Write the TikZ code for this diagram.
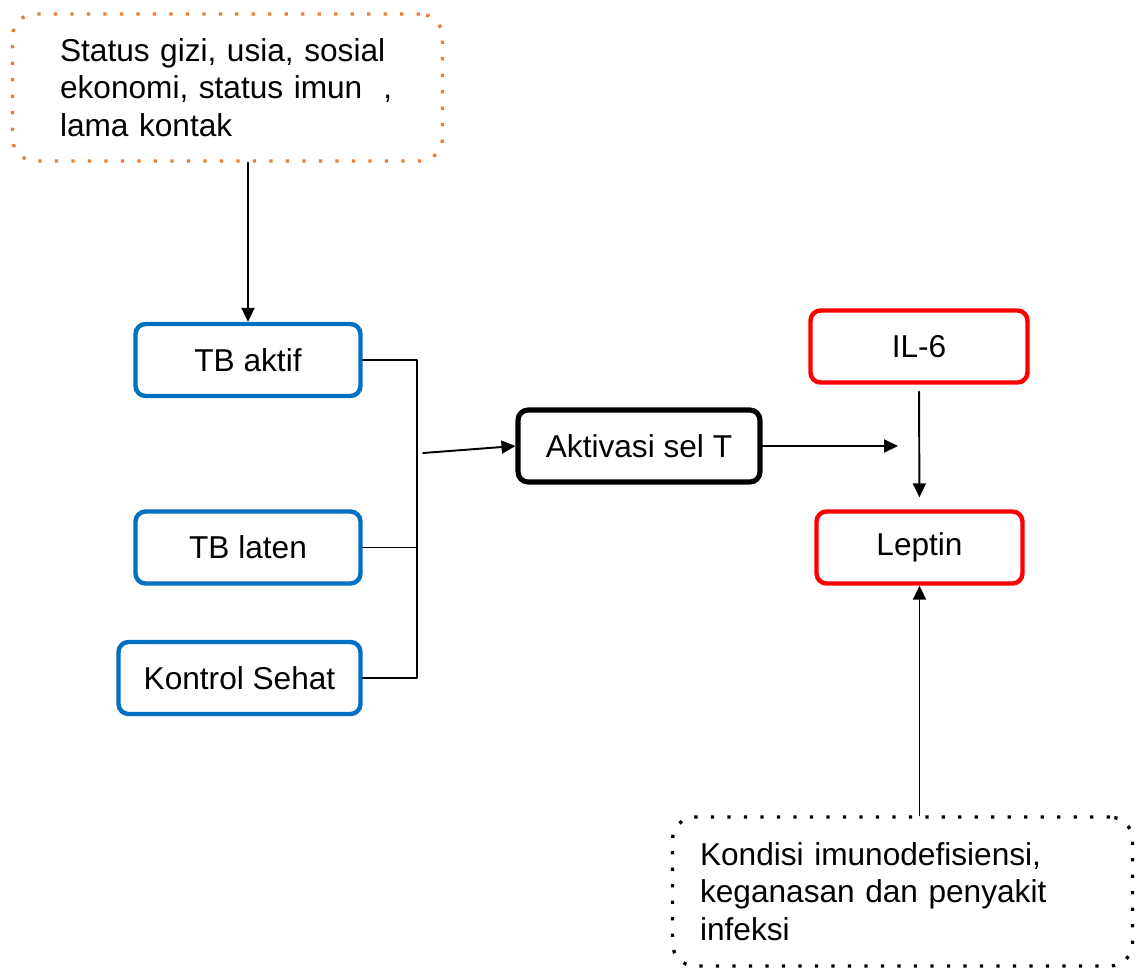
\documentclass[tikz,border=0pt]{standalone}
\usepackage{fontspec}
\setmainfont{Liberation Sans}
\usetikzlibrary{arrows.meta}
\definecolor{boxblue}{HTML}{0070C0}
\definecolor{boxred}{HTML}{FF0000}
\definecolor{boxorange}{HTML}{ED7D31}
\begin{document}
\begin{tikzpicture}[x=0.02cm, y=-0.02cm, line cap=round, line join=round,
		>={Triangle[length=0.28cm,width=0.26cm]},
		every node/.style={font=\fontsize{18}{21.5}\selectfont, inner sep=0pt},
		group/.style={draw=boxblue, line width=2.5pt, rounded corners=0.2cm, minimum height=1.44cm},
		marker/.style={draw=boxred, line width=2.5pt, rounded corners=0.2cm, minimum height=1.44cm},
		process/.style={draw=black, line width=2.9pt, rounded corners=0.2cm, minimum height=1.44cm, minimum width=4.84cm},
		factor/.style={line width=1.9pt, line cap=butt, dash pattern=on 0.065cm off 0.265cm, rounded corners=0.45cm, align=left},
		link/.style={line width=1.1pt}]
	
	% Define canvas
	\useasboundingbox (0,0) rectangle (1137,970);
	
	% Risk factor boxes
	\node[factor, draw=boxorange, minimum width=8.6cm, minimum height=2.94cm, text width=6.7cm] (status) at (227.5,87.5)
		{Status gizi, usia, sosial\\ekonomi, status imun\ \ ,\\lama kontak};
	\node[factor, draw=black, minimum width=9.2cm, minimum height=2.98cm, text width=8.1cm] (kondisi) at (902.5,891.5)
		{Kondisi imunodefisiensi,\\keganasan dan penyakit\\infeksi};
	
	% Study groups
	\node[group, minimum width=4.5cm] (aktif) at (248,360) {TB aktif};
	\node[group, minimum width=4.5cm] (laten) at (248,547.5) {TB laten};
	\node[group, minimum width=4.84cm] (sehat) at (239.5,678) {Kontrol Sehat};
	
	% Pathway boxes
	\node[process] (sel) at (639,446) {Aktivasi sel T};
	\node[marker, minimum width=4.34cm] (il) at (919,346.5) {IL-6};
	\node[marker, minimum width=4.12cm] (leptin) at (919.5,547.5) {Leptin};
	
	% Free ends
	\coordinate (bus) at (417,0);
	\coordinate (busout) at (423,453);
	\coordinate (tip) at (898,446);
	
	% Bracket joining the groups
	\draw[line width=0.8pt] (aktif.east) -- (aktif.east -| bus) -- (sehat.east -| bus) -- (sehat.east);
	\draw[line width=0.8pt] (laten.east) -- (laten.east -| bus);
	
	% Arrows
	\draw[link, ->] (aktif.north |- status.south) -- (aktif.north);
	\draw[link, ->] (busout) -- (sel.west);
	\draw[link, ->] (sel.east) -- (tip);
	\draw[link, ->, shorten <=0.14cm, shorten >=0.24cm] (il.south) -- (leptin.north);
	\draw[link, ->] (kondisi.north -| leptin.south) -- (leptin.south);
	
\end{tikzpicture}
\end{document}
